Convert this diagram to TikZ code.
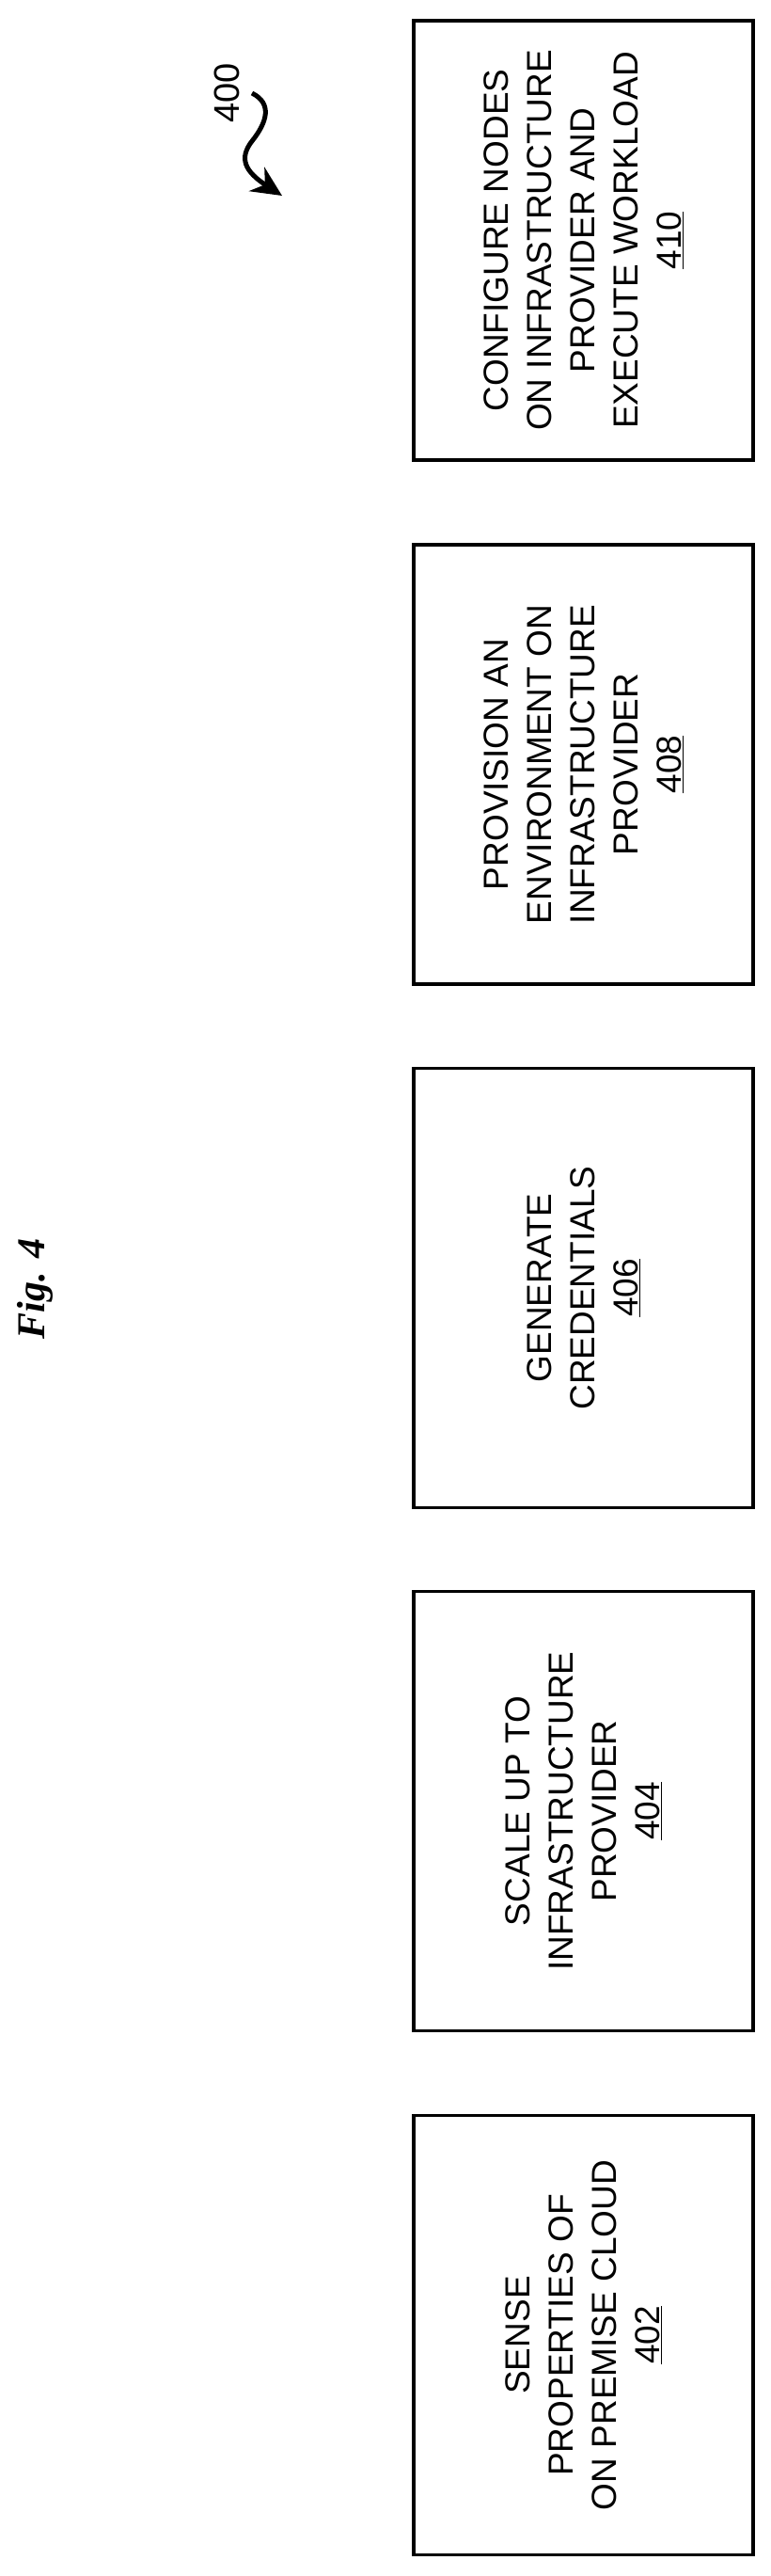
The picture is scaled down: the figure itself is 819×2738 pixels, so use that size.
\documentclass[tikz,border=0pt]{standalone}
\usepackage{fontspec}
\setmainfont{Liberation Sans}
\newfontfamily\figfont{Liberation Serif}
\usetikzlibrary{arrows.meta}
\tikzset{
  stepbox/.style={draw, line width=3.5pt, rotate=90, align=center, inner sep=0pt,
    minimum width=467pt, minimum height=361pt, font=\fontsize{37}{46}\selectfont},
}
\begin{document}
\begin{tikzpicture}[x=1pt, y=-1pt]
      \useasboundingbox (0,0) rectangle (819,2738);
      % Steps
      \node[stepbox] (s410) at (620.5,255.5)
        {CONFIGURE NODES\\ON INFRASTRUCTURE\\PROVIDER AND\\EXECUTE WORKLOAD\\\underline{410}};
      \node[stepbox] (s408) at (620.5,812.5)
        {PROVISION AN\\ENVIRONMENT ON\\INFRASTRUCTURE\\PROVIDER\\\underline{408}};
      \node[stepbox] (s406) at (620.5,1369)
        {GENERATE\\CREDENTIALS\\\underline{406}};
      \node[stepbox] (s404) at (620.5,1925)
        {SCALE UP TO\\INFRASTRUCTURE\\PROVIDER\\\underline{404}};
      \node[stepbox] (s402) at (620.5,2482)
        {SENSE\\PROPERTIES OF\\ON PREMISE CLOUD\\\underline{402}};
      % Reference and caption
      \node[rotate=90, font=\fontsize{38}{40}\selectfont] (ref) at (241,99) {400};
      \coordinate (tip) at (300,208);
      \draw[line width=5pt, -{Stealth[length=32pt, width=30pt]}] (268,99)
        .. controls (290,110) and (284,130) .. (268,150)
        .. controls (254,168) and (260,182) .. (tip);
      \node[rotate=90, font=\figfont\bfseries\itshape\fontsize{42}{44}\selectfont] (cap) at (37,1370) {Fig. 4};
\end{tikzpicture}
\end{document}
